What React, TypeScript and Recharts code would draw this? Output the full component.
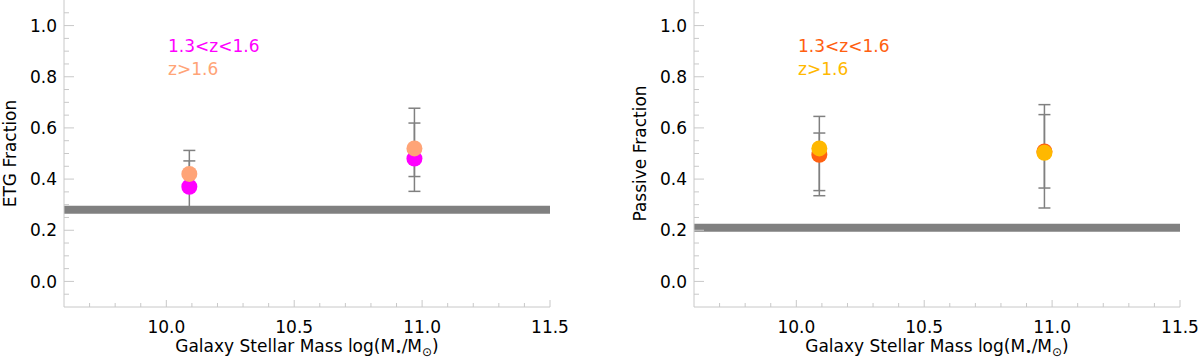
import React from "react";
import {
  ScatterChart,
  Scatter,
  XAxis,
  YAxis,
  ErrorBar,
  ReferenceLine,
} from "recharts";

// stellar mass bins (log M*/Msun)
const massBins = [10.09, 10.97];

// ETG fraction, left panel
const etgMidZ = [0.37, 0.48];
const etgMidZLow = [0.29, 0.352];
const etgMidZHigh = [0.471, 0.619];
const etgHighZ = [0.42, 0.52];
const etgHighZLow = [0.367, 0.41];
const etgHighZHigh = [0.512, 0.677];
const etgLocal = 0.28;

// passive fraction, right panel
const pasMidZ = [0.495, 0.508];
const pasMidZLow = [0.335, 0.287];
const pasMidZHigh = [0.645, 0.691];
const pasHighZ = [0.52, 0.503];
const pasHighZLow = [0.355, 0.365];
const pasHighZHigh = [0.58, 0.652];
const pasLocal = 0.21;

const seriesNames = ["1.3<z<1.6", "z>1.6"];

const xTicks = [
  9.7, 9.8, 9.9, 10.0, 10.1, 10.2, 10.3, 10.4, 10.5, 10.6, 10.7, 10.8, 10.9,
  11.0, 11.1, 11.2, 11.3, 11.4, 11.5,
];
const yTicks = [
  -0.05, 0.0, 0.05, 0.1, 0.15, 0.2, 0.25, 0.3, 0.35, 0.4, 0.45, 0.5, 0.55, 0.6,
  0.65, 0.7, 0.75, 0.8, 0.85, 0.9, 0.95, 1.0, 1.05,
];

const FONT = "'DejaVu Sans', sans-serif";
const AXIS = "#c8c8c8";
const ERR = "#808080";

const makeRows = (vals: number[], lo: number[], hi: number[]) =>
  massBins.map((m, i) => ({
    x: m,
    y: vals[i],
    err: [vals[i] - lo[i], hi[i] - vals[i]],
  }));

const isMajorX = (v: number) => Math.abs(v * 2 - Math.round(v * 2)) < 1e-6;
const isMajorY = (v: number) => Math.abs(v * 5 - Math.round(v * 5)) < 1e-6;

const XTickBottom = ({ x, y, payload }: any) => {
  const major = isMajorX(payload.value);
  return (
    <g>
      <line x1={x} x2={x} y1={y} y2={y - (major ? 7 : 4)} stroke={AXIS} />
      {major && (
        <text x={x} y={y + 26} textAnchor="middle" fontSize={17} fontFamily={FONT} fill="#000">
          {payload.value.toFixed(1)}
        </text>
      )}
    </g>
  );
};

const XTickTop = ({ x, y, payload }: any) => {
  const major = isMajorX(payload.value);
  return <line x1={x} x2={x} y1={y} y2={y + (major ? 7 : 4)} stroke={AXIS} />;
};

const YTickLeft = ({ x, y, payload }: any) => {
  const major = isMajorY(payload.value);
  return (
    <g>
      <line x1={x} x2={x + (major ? 10 : 5)} y1={y} y2={y} stroke={AXIS} />
      {major && (
        <text x={x - 7} y={y + 6.2} textAnchor="end" fontSize={17} fontFamily={FONT} fill="#000">
          {Math.abs(payload.value) < 1e-9 ? "0.0" : payload.value.toFixed(1)}
        </text>
      )}
    </g>
  );
};

const YTickRight = ({ x, y, payload }: any) => {
  const major = isMajorY(payload.value);
  return <line x1={x} x2={x - (major ? 10 : 5)} y1={y} y2={y} stroke={AXIS} />;
};

interface PanelProps {
  left: number;
  yLabel: string;
  series: { name: string; color: string; rows: any[] }[];
  localFrac: number;
}

const Panel: React.FC<PanelProps> = ({ left, yLabel, series, localFrac }) => (
  <div style={{ position: "absolute", left, top: 0, width: 600, height: 362 }}>
    <ScatterChart width={600} height={362} margin={{ top: 0, right: 50, left: 0, bottom: 0 }}>
      <XAxis
        type="number"
        dataKey="x"
        domain={[9.6, 11.5]}
        ticks={xTicks}
        interval={0}
        height={55}
        tickSize={0}
        tickMargin={0}
        stroke={AXIS}
        tick={XTickBottom}
        label={{
          content: ({ viewBox }: any) => (
            <text
              x={viewBox.x + viewBox.width / 2}
              y={viewBox.y + 45}
              textAnchor="middle"
              fontSize={17}
              fontFamily={FONT}
              fill="#000"
            >
              Galaxy Stellar Mass log(M
              <tspan fontSize={11} dy={3}>•</tspan>
              <tspan dy={-3}>/M</tspan>
              <tspan fontSize={12} dy={4}>⊙</tspan>
              <tspan dy={-4}>)</tspan>
            </text>
          ),
        }}
      />
      <XAxis
        xAxisId="top"
        orientation="top"
        type="number"
        domain={[9.6, 11.5]}
        ticks={xTicks}
        interval={0}
        height={0}
        tickSize={0}
        tickMargin={0}
        axisLine={false}
        tick={XTickTop}
      />
      <YAxis
        type="number"
        dataKey="y"
        domain={[-0.1, 1.1]}
        ticks={yTicks}
        interval={0}
        width={64}
        tickSize={0}
        tickMargin={0}
        stroke={AXIS}
        tick={YTickLeft}
        label={{
          content: ({ viewBox }: any) => (
            <text
              transform={`translate(${viewBox.x + 10},${viewBox.y + viewBox.height / 2}) rotate(-90)`}
              textAnchor="middle"
              dominantBaseline="central"
              fontSize={17}
              fontFamily={FONT}
              fill="#000"
            >
              {yLabel}
            </text>
          ),
        }}
      />
      <YAxis
        yAxisId="right"
        orientation="right"
        type="number"
        domain={[-0.1, 1.1]}
        ticks={yTicks}
        interval={0}
        width={0}
        tickSize={0}
        tickMargin={0}
        stroke={AXIS}
        tick={YTickRight}
      />
      {series.map((s) => (
        <Scatter
          key={s.name}
          name={s.name}
          data={s.rows}
          fill={s.color}
          isAnimationActive={false}
          shape={(p: any) => <circle cx={p.cx} cy={p.cy} r={8} fill={s.color} />}
        >
          <ErrorBar dataKey="err" direction="y" width={6} stroke={ERR} strokeWidth={1.5} />
        </Scatter>
      ))}
      <ReferenceLine y={localFrac} stroke="#808080" strokeWidth={8} />
    </ScatterChart>
    <div
      style={{
        position: "absolute",
        left: 168,
        top: 35,
        fontFamily: FONT,
        fontSize: 17,
        lineHeight: "23px",
        whiteSpace: "nowrap",
      }}
    >
      {series.map((s) => (
        <div key={s.name} style={{ color: s.color }}>
          {s.name}
        </div>
      ))}
    </div>
  </div>
);

export default function App() {
  return (
    <div style={{ position: "absolute", left: 0, top: 0, width: 1200, height: 362, background: "#fff" }}>
      <Panel
        left={0}
        yLabel="ETG Fraction"
        localFrac={etgLocal}
        series={[
          { name: seriesNames[0], color: "#ff00ff", rows: makeRows(etgMidZ, etgMidZLow, etgMidZHigh) },
          { name: seriesNames[1], color: "#ffa477", rows: makeRows(etgHighZ, etgHighZLow, etgHighZHigh) },
        ]}
      />
      <Panel
        left={630}
        yLabel="Passive Fraction"
        localFrac={pasLocal}
        series={[
          { name: seriesNames[0], color: "#ff6010", rows: makeRows(pasMidZ, pasMidZLow, pasMidZHigh) },
          { name: seriesNames[1], color: "#ffb800", rows: makeRows(pasHighZ, pasHighZLow, pasHighZHigh) },
        ]}
      />
    </div>
  );
}
